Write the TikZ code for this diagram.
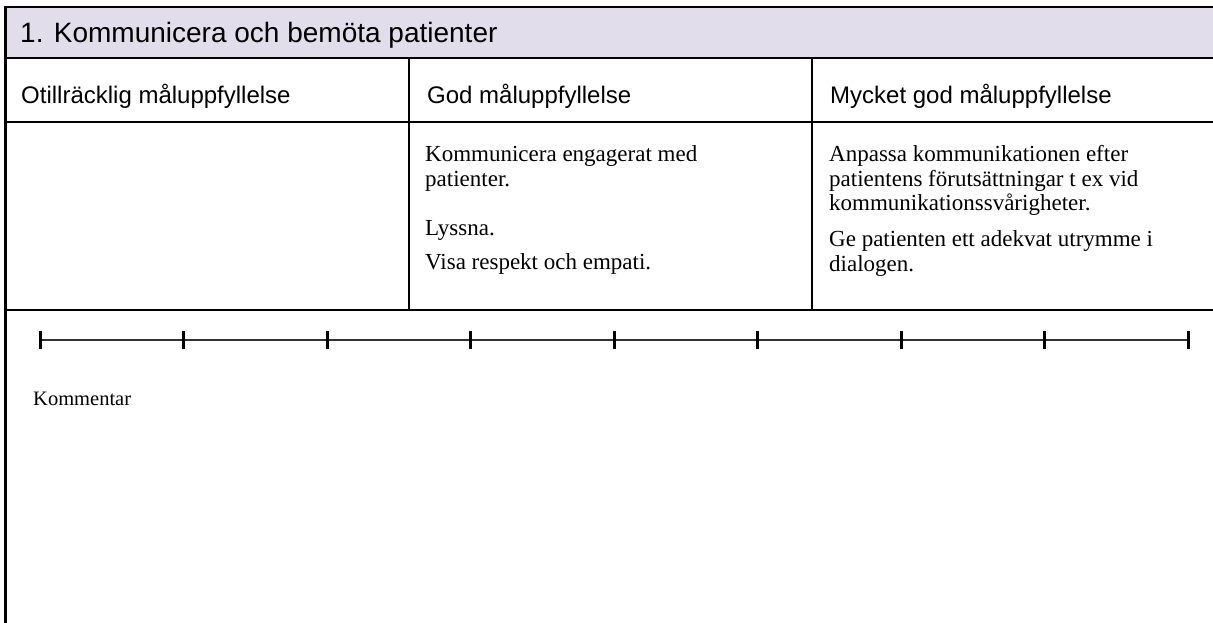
\documentclass[tikz,border=0pt]{standalone}
\usepackage{fontspec}
\setmainfont{Liberation Serif}
\newfontfamily\arialf{Liberation Sans}
\definecolor{hdrfill}{HTML}{E2DDEA}
\begin{document}
\begin{tikzpicture}[x=1pt,y=-1pt,
  frame/.style={line width=2.6pt,black},
  grid/.style={line width=2.4pt,black},
  scaleline/.style={line width=2.6pt,black!80},
  tick/.style={line width=3pt,black},
  title/.style={anchor=base west,inner sep=0pt,font=\arialf\fontsize{28}{32}\selectfont},
  colhead/.style={anchor=base west,inner sep=0pt,font=\arialf\fontsize{24}{28}\selectfont},
  body/.style={anchor=base west,inner sep=0pt,font=\fontsize{23}{27}\selectfont},
  note/.style={anchor=base west,inner sep=0pt,font=\fontsize{20.5}{24}\selectfont}]
\useasboundingbox (0,0) rectangle (1213,623);
% header band
\fill[hdrfill] (5,7) rectangle (1213,58);
\draw[frame] (4,7) -- (1213,7);
\draw[grid] (5,58) -- (1213,58);
\draw[frame] (5.5,6) -- (5.5,623);
% table lines
\draw[grid] (5,122) -- (1213,122);
\draw[grid] (5,310) -- (1213,310);
\draw[grid] (409,58) -- (409,310);
\draw[grid] (812,58) -- (812,310);
% texts
\node[title] (t) at (20,43) {1. Kommunicera och bemöta patienter};
\node[colhead] (h1) at (21,104) {Otillräcklig måluppfyllelse};
\node[colhead] (h2) at (427,104) {God måluppfyllelse};
\node[colhead] (h3) at (830,104) {Mycket god måluppfyllelse};
\node[body] (a1) at (425,161) {Kommunicera engagerat med};
\node[body] (a2) at (425,186) {patienter.};
\node[body] (a3) at (425,235) {Lyssna.};
\node[body] (a4) at (425,269) {Visa respekt och empati.};
\node[body] (b1) at (829,161) {Anpassa kommunikationen efter};
\node[body] (b2) at (829,186) {patientens förutsättningar t ex vid};
\node[body] (b3) at (829,211) {kommunikationssvårigheter.};
\node[body] (b4) at (829,246) {Ge patienten ett adekvat utrymme i};
\node[body] (b5) at (829,271) {dialogen.};
% scale
\coordinate (s0) at (40,340);
\coordinate (s8) at (1188,340);
\draw[scaleline] (s0) -- (s8);
\foreach \i in {0,...,8} {
  \coordinate (k\i) at ({40+\i*143.5},340);
  \draw[tick] ([yshift=-9pt]k\i) -- ([yshift=9pt]k\i);
}
\node[note] (c) at (33,405) {Kommentar};
\end{tikzpicture}
\end{document}
